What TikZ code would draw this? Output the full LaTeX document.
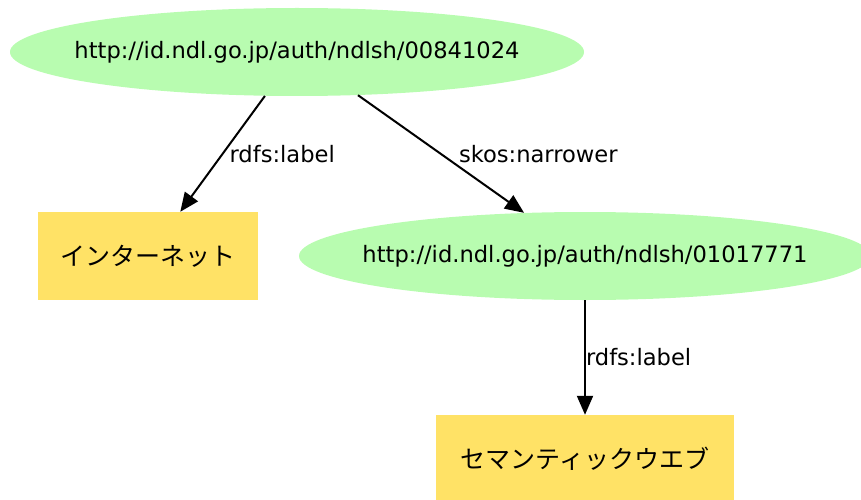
\documentclass[tikz,border=0pt]{standalone}
\usepackage{fontspec}
\setmainfont{DejaVu Sans}
\newfontfamily\jpfont{Noto Sans CJK JP}
\usetikzlibrary{shapes.geometric,arrows.meta}
\definecolor{uricolor}{RGB}{184,252,176}
\definecolor{litcolor}{RGB}{255,226,102}

\begin{document}
\begin{tikzpicture}[x=1pt, y=-1pt]
\tikzstyle{uri} = [ellipse, fill=uricolor, inner sep=0pt, minimum height=88pt, font=\fontsize{22.6}{27}\selectfont]
\tikzstyle{lit} = [rectangle, fill=litcolor, inner sep=0pt, minimum height=88pt, font=\jpfont\fontsize{25}{29}\selectfont]
\tikzstyle{lbl} = [anchor=west, inner sep=0pt, font=\fontsize{22.6}{27}\selectfont]
\useasboundingbox (0,0) rectangle (861,500);
\clip (0,0) rectangle (861,500);
\node[uri, minimum width=574pt] (s) at (297, 52) {\makebox[380pt]{http://id.ndl.go.jp/auth/ndlsh/00841024}};
\node[lit, minimum width=220pt] (i) at (148, 256) {インターネット};
\node[uri, minimum width=572pt] (n) at (585, 256) {\makebox[380pt]{http://id.ndl.go.jp/auth/ndlsh/01017771}};
\node[lit, minimum width=298pt] (w) at (585, 459) {セマンティックウエブ};
\foreach \from/\to/\lab/\dx in {s/i/rdfs:label/6, s/n/skos:narrower/17, n/w/rdfs:label/0}
\draw [-{Triangle[length=19pt,width=16pt]}, line width=2pt] (\from) -- node[lbl, xshift=\dx pt] {\lab} (\to);
\end{tikzpicture}
\end{document}
